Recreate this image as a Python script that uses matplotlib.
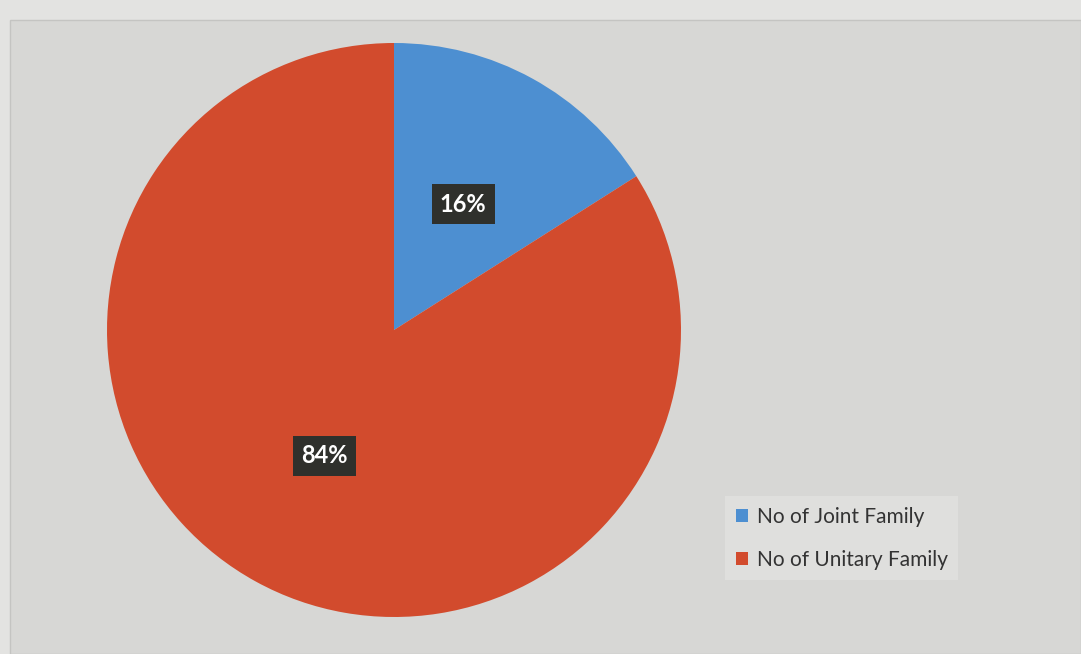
import matplotlib.pyplot as plt
from matplotlib.patches import Rectangle

# Family type shares (percent)
labels = ['No of Joint Family', 'No of Unitary Family']
shares = [16, 84]
colors = ['#4d8fd1', '#d24b2d']

fig = plt.figure(figsize=(10.81, 6.54), dpi=100)
fig.patch.set_facecolor('#e3e3e1')

# chart panel behind the pie
panel = Rectangle((10 / 1081, 0), 1 - 10 / 1081, 1 - 20 / 654,
                  transform=fig.transFigure, facecolor='#d7d7d5',
                  edgecolor='#c4c4c2', linewidth=1, zorder=-5)
fig.add_artist(panel)

ax = fig.add_axes([107 / 1081, 37 / 654, 574 / 1081, 574 / 654])
ax.set_facecolor('none')
ax.set_zorder(2)

wedges, texts, autotexts = ax.pie(
    shares, colors=colors, startangle=90, counterclock=False,
    autopct='%d%%', pctdistance=0.5,
    wedgeprops=dict(edgecolor='none'),
)
for t in autotexts:
    t.set_color('white')
    t.set_fontfamily('Lato')
    t.set_fontweight('bold')
    t.set_fontsize(17)
    t.set_bbox(dict(boxstyle='square,pad=0.35', facecolor='#2f302c',
                    edgecolor='none'))
ax.set_xlim(-1, 1)
ax.set_ylim(-1, 1)
ax.set_aspect('equal')

leg = fig.legend(wedges, labels, loc='upper left',
                 bbox_to_anchor=(715 / 1081, 1 - 486 / 654),
                 prop={'family': 'Lato', 'size': 15},
                 handlelength=0.6, handleheight=0.6, handletextpad=0.4,
                 labelspacing=1.1, borderpad=0.5,
                 frameon=True, fancybox=False, facecolor='#dfdfdd',
                 edgecolor='none', framealpha=1)
leg.set_zorder(3)
for t in leg.get_texts():
    t.set_color('#333333')

fig.savefig('out.png', dpi=100, facecolor=fig.get_facecolor())
